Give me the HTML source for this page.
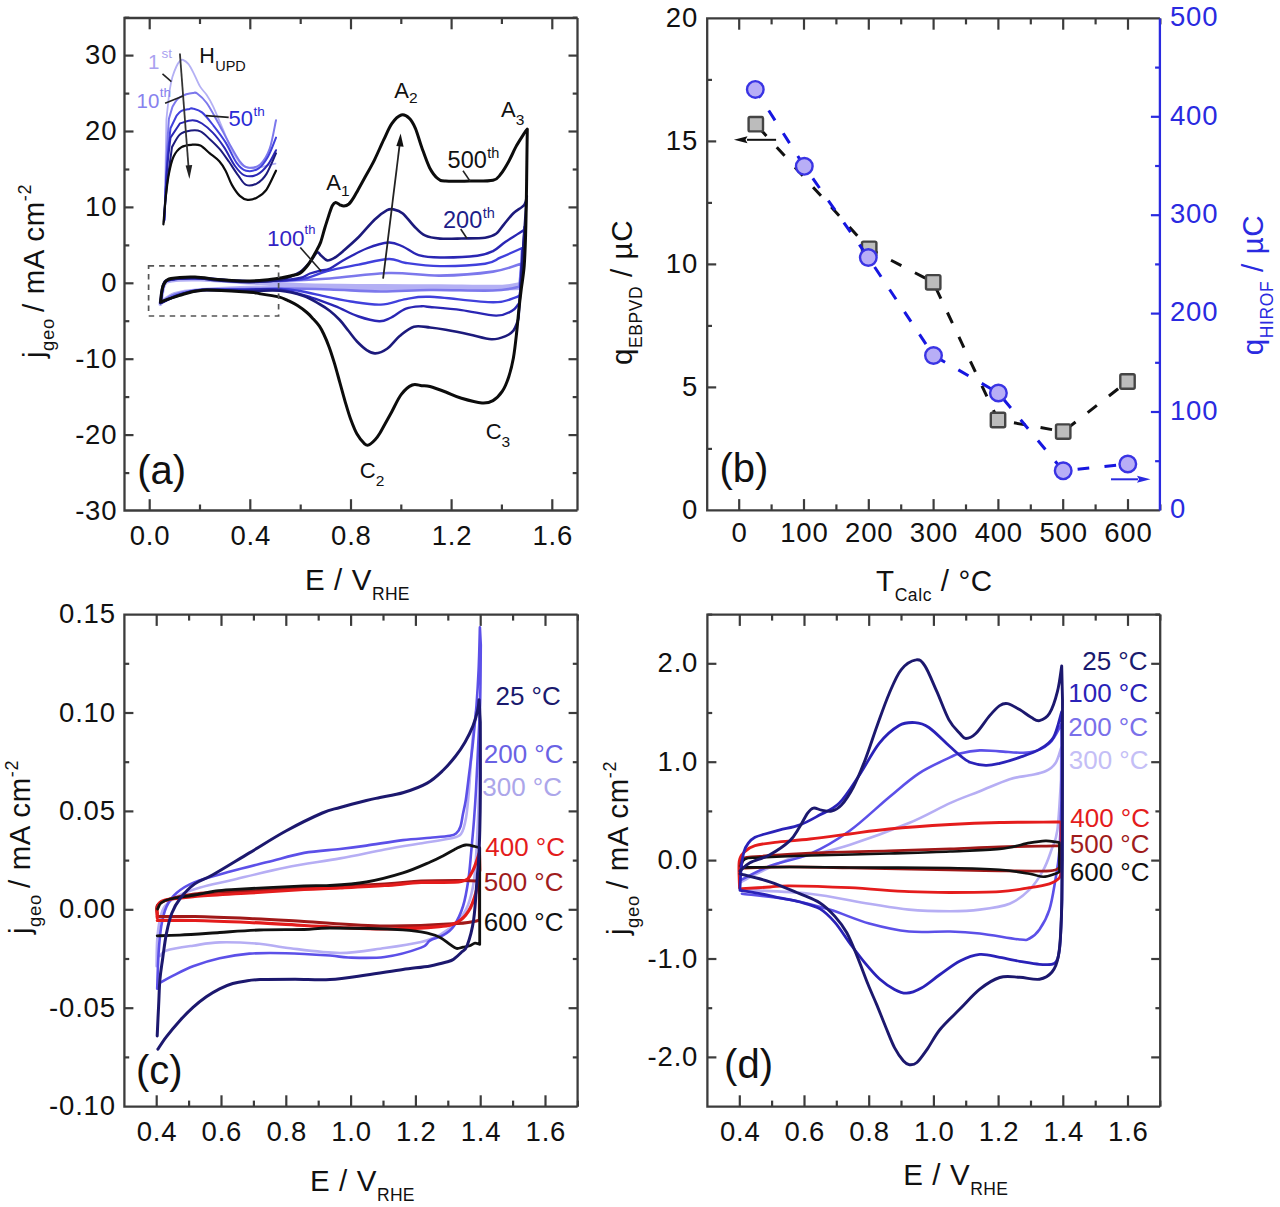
<!DOCTYPE html>
<html><head><meta charset="utf-8"><style>
html,body{margin:0;padding:0;background:#fff;}
svg{display:block;font-family:"Liberation Sans", sans-serif;}
</style></head><body>
<svg width="1280" height="1207" viewBox="0 0 1280 1207">
<rect width="1280" height="1207" fill="#fff"/>
<line x1="149.7" y1="510.5" x2="149.7" y2="499.2" stroke="#3c3c3c" stroke-width="2.2"/>
<line x1="149.7" y1="18" x2="149.7" y2="29.3" stroke="#3c3c3c" stroke-width="2.2"/>
<line x1="250.3" y1="510.5" x2="250.3" y2="499.2" stroke="#3c3c3c" stroke-width="2.2"/>
<line x1="250.3" y1="18" x2="250.3" y2="29.3" stroke="#3c3c3c" stroke-width="2.2"/>
<line x1="351" y1="510.5" x2="351" y2="499.2" stroke="#3c3c3c" stroke-width="2.2"/>
<line x1="351" y1="18" x2="351" y2="29.3" stroke="#3c3c3c" stroke-width="2.2"/>
<line x1="451.6" y1="510.5" x2="451.6" y2="499.2" stroke="#3c3c3c" stroke-width="2.2"/>
<line x1="451.6" y1="18" x2="451.6" y2="29.3" stroke="#3c3c3c" stroke-width="2.2"/>
<line x1="552.3" y1="510.5" x2="552.3" y2="499.2" stroke="#3c3c3c" stroke-width="2.2"/>
<line x1="552.3" y1="18" x2="552.3" y2="29.3" stroke="#3c3c3c" stroke-width="2.2"/>
<line x1="200" y1="510.5" x2="200" y2="504.5" stroke="#3c3c3c" stroke-width="2.2"/>
<line x1="200" y1="18" x2="200" y2="24" stroke="#3c3c3c" stroke-width="2.2"/>
<line x1="300.7" y1="510.5" x2="300.7" y2="504.5" stroke="#3c3c3c" stroke-width="2.2"/>
<line x1="300.7" y1="18" x2="300.7" y2="24" stroke="#3c3c3c" stroke-width="2.2"/>
<line x1="401.3" y1="510.5" x2="401.3" y2="504.5" stroke="#3c3c3c" stroke-width="2.2"/>
<line x1="401.3" y1="18" x2="401.3" y2="24" stroke="#3c3c3c" stroke-width="2.2"/>
<line x1="501.9" y1="510.5" x2="501.9" y2="504.5" stroke="#3c3c3c" stroke-width="2.2"/>
<line x1="501.9" y1="18" x2="501.9" y2="24" stroke="#3c3c3c" stroke-width="2.2"/>
<line x1="124.5" y1="435.1" x2="133.5" y2="435.1" stroke="#3c3c3c" stroke-width="2.2"/>
<line x1="124.5" y1="359.2" x2="133.5" y2="359.2" stroke="#3c3c3c" stroke-width="2.2"/>
<line x1="124.5" y1="283.3" x2="133.5" y2="283.3" stroke="#3c3c3c" stroke-width="2.2"/>
<line x1="124.5" y1="207.4" x2="133.5" y2="207.4" stroke="#3c3c3c" stroke-width="2.2"/>
<line x1="124.5" y1="131.5" x2="133.5" y2="131.5" stroke="#3c3c3c" stroke-width="2.2"/>
<line x1="124.5" y1="55.6" x2="133.5" y2="55.6" stroke="#3c3c3c" stroke-width="2.2"/>
<line x1="124.5" y1="473.1" x2="129.3" y2="473.1" stroke="#3c3c3c" stroke-width="2.2"/>
<line x1="124.5" y1="397.1" x2="129.3" y2="397.1" stroke="#3c3c3c" stroke-width="2.2"/>
<line x1="124.5" y1="321.2" x2="129.3" y2="321.2" stroke="#3c3c3c" stroke-width="2.2"/>
<line x1="124.5" y1="245.4" x2="129.3" y2="245.4" stroke="#3c3c3c" stroke-width="2.2"/>
<line x1="124.5" y1="169.5" x2="129.3" y2="169.5" stroke="#3c3c3c" stroke-width="2.2"/>
<line x1="124.5" y1="93.6" x2="129.3" y2="93.6" stroke="#3c3c3c" stroke-width="2.2"/>
<line x1="124.5" y1="17.7" x2="129.3" y2="17.7" stroke="#3c3c3c" stroke-width="2.2"/>
<line x1="577.5" y1="435.1" x2="568.5" y2="435.1" stroke="#3c3c3c" stroke-width="2.2"/>
<line x1="577.5" y1="359.2" x2="568.5" y2="359.2" stroke="#3c3c3c" stroke-width="2.2"/>
<line x1="577.5" y1="283.3" x2="568.5" y2="283.3" stroke="#3c3c3c" stroke-width="2.2"/>
<line x1="577.5" y1="207.4" x2="568.5" y2="207.4" stroke="#3c3c3c" stroke-width="2.2"/>
<line x1="577.5" y1="131.5" x2="568.5" y2="131.5" stroke="#3c3c3c" stroke-width="2.2"/>
<line x1="577.5" y1="55.6" x2="568.5" y2="55.6" stroke="#3c3c3c" stroke-width="2.2"/>
<line x1="577.5" y1="473.1" x2="572.7" y2="473.1" stroke="#3c3c3c" stroke-width="2.2"/>
<line x1="577.5" y1="397.1" x2="572.7" y2="397.1" stroke="#3c3c3c" stroke-width="2.2"/>
<line x1="577.5" y1="321.2" x2="572.7" y2="321.2" stroke="#3c3c3c" stroke-width="2.2"/>
<line x1="577.5" y1="245.4" x2="572.7" y2="245.4" stroke="#3c3c3c" stroke-width="2.2"/>
<line x1="577.5" y1="169.5" x2="572.7" y2="169.5" stroke="#3c3c3c" stroke-width="2.2"/>
<line x1="577.5" y1="93.6" x2="572.7" y2="93.6" stroke="#3c3c3c" stroke-width="2.2"/>
<line x1="577.5" y1="17.7" x2="572.7" y2="17.7" stroke="#3c3c3c" stroke-width="2.2"/>
<path d="M577.5,18 L124.5,18 L124.5,510.5 L577.5,510.5" fill="none" stroke="#3c3c3c" stroke-width="2.3" stroke-linejoin="miter"/>
<line x1="577.5" y1="18" x2="577.5" y2="510.5" stroke="#3c3c3c" stroke-width="2.3"/>
<text x="117.3" y="519.5" font-size="27.5" text-anchor="end" fill="#111" letter-spacing="0.8">-30</text>
<text x="117.3" y="443.6" font-size="27.5" text-anchor="end" fill="#111" letter-spacing="0.8">-20</text>
<text x="117.3" y="367.7" font-size="27.5" text-anchor="end" fill="#111" letter-spacing="0.8">-10</text>
<text x="117.3" y="291.8" font-size="27.5" text-anchor="end" fill="#111" letter-spacing="0.8">0</text>
<text x="117.3" y="215.9" font-size="27.5" text-anchor="end" fill="#111" letter-spacing="0.8">10</text>
<text x="117.3" y="140" font-size="27.5" text-anchor="end" fill="#111" letter-spacing="0.8">20</text>
<text x="117.3" y="64.1" font-size="27.5" text-anchor="end" fill="#111" letter-spacing="0.8">30</text>
<text x="150.1" y="544.7" font-size="27.5" text-anchor="middle" fill="#111" letter-spacing="0.8">0.0</text>
<text x="250.7" y="544.7" font-size="27.5" text-anchor="middle" fill="#111" letter-spacing="0.8">0.4</text>
<text x="351.4" y="544.7" font-size="27.5" text-anchor="middle" fill="#111" letter-spacing="0.8">0.8</text>
<text x="452" y="544.7" font-size="27.5" text-anchor="middle" fill="#111" letter-spacing="0.8">1.2</text>
<text x="552.7" y="544.7" font-size="27.5" text-anchor="middle" fill="#111" letter-spacing="0.8">1.6</text>
<line x1="739.2" y1="510.4" x2="739.2" y2="499.1" stroke="#3c3c3c" stroke-width="2.2"/>
<line x1="739.2" y1="18.4" x2="739.2" y2="29.7" stroke="#3c3c3c" stroke-width="2.2"/>
<line x1="804" y1="510.4" x2="804" y2="499.1" stroke="#3c3c3c" stroke-width="2.2"/>
<line x1="804" y1="18.4" x2="804" y2="29.7" stroke="#3c3c3c" stroke-width="2.2"/>
<line x1="868.8" y1="510.4" x2="868.8" y2="499.1" stroke="#3c3c3c" stroke-width="2.2"/>
<line x1="868.8" y1="18.4" x2="868.8" y2="29.7" stroke="#3c3c3c" stroke-width="2.2"/>
<line x1="933.6" y1="510.4" x2="933.6" y2="499.1" stroke="#3c3c3c" stroke-width="2.2"/>
<line x1="933.6" y1="18.4" x2="933.6" y2="29.7" stroke="#3c3c3c" stroke-width="2.2"/>
<line x1="998.4" y1="510.4" x2="998.4" y2="499.1" stroke="#3c3c3c" stroke-width="2.2"/>
<line x1="998.4" y1="18.4" x2="998.4" y2="29.7" stroke="#3c3c3c" stroke-width="2.2"/>
<line x1="1063.2" y1="510.4" x2="1063.2" y2="499.1" stroke="#3c3c3c" stroke-width="2.2"/>
<line x1="1063.2" y1="18.4" x2="1063.2" y2="29.7" stroke="#3c3c3c" stroke-width="2.2"/>
<line x1="1128" y1="510.4" x2="1128" y2="499.1" stroke="#3c3c3c" stroke-width="2.2"/>
<line x1="1128" y1="18.4" x2="1128" y2="29.7" stroke="#3c3c3c" stroke-width="2.2"/>
<line x1="771.6" y1="510.4" x2="771.6" y2="504.4" stroke="#3c3c3c" stroke-width="2.2"/>
<line x1="771.6" y1="18.4" x2="771.6" y2="24.4" stroke="#3c3c3c" stroke-width="2.2"/>
<line x1="836.4" y1="510.4" x2="836.4" y2="504.4" stroke="#3c3c3c" stroke-width="2.2"/>
<line x1="836.4" y1="18.4" x2="836.4" y2="24.4" stroke="#3c3c3c" stroke-width="2.2"/>
<line x1="901.2" y1="510.4" x2="901.2" y2="504.4" stroke="#3c3c3c" stroke-width="2.2"/>
<line x1="901.2" y1="18.4" x2="901.2" y2="24.4" stroke="#3c3c3c" stroke-width="2.2"/>
<line x1="966" y1="510.4" x2="966" y2="504.4" stroke="#3c3c3c" stroke-width="2.2"/>
<line x1="966" y1="18.4" x2="966" y2="24.4" stroke="#3c3c3c" stroke-width="2.2"/>
<line x1="1030.8" y1="510.4" x2="1030.8" y2="504.4" stroke="#3c3c3c" stroke-width="2.2"/>
<line x1="1030.8" y1="18.4" x2="1030.8" y2="24.4" stroke="#3c3c3c" stroke-width="2.2"/>
<line x1="1095.6" y1="510.4" x2="1095.6" y2="504.4" stroke="#3c3c3c" stroke-width="2.2"/>
<line x1="1095.6" y1="18.4" x2="1095.6" y2="24.4" stroke="#3c3c3c" stroke-width="2.2"/>
<line x1="1160.4" y1="510.4" x2="1160.4" y2="504.4" stroke="#3c3c3c" stroke-width="2.2"/>
<line x1="1160.4" y1="18.4" x2="1160.4" y2="24.4" stroke="#3c3c3c" stroke-width="2.2"/>
<line x1="707.2" y1="387.4" x2="716.2" y2="387.4" stroke="#3c3c3c" stroke-width="2.2"/>
<line x1="707.2" y1="264.4" x2="716.2" y2="264.4" stroke="#3c3c3c" stroke-width="2.2"/>
<line x1="707.2" y1="141.4" x2="716.2" y2="141.4" stroke="#3c3c3c" stroke-width="2.2"/>
<line x1="707.2" y1="448.9" x2="712" y2="448.9" stroke="#3c3c3c" stroke-width="2.2"/>
<line x1="707.2" y1="325.9" x2="712" y2="325.9" stroke="#3c3c3c" stroke-width="2.2"/>
<line x1="707.2" y1="202.9" x2="712" y2="202.9" stroke="#3c3c3c" stroke-width="2.2"/>
<line x1="707.2" y1="79.9" x2="712" y2="79.9" stroke="#3c3c3c" stroke-width="2.2"/>
<path d="M1159.9,18.4 L707.2,18.4 L707.2,510.4 L1159.9,510.4" fill="none" stroke="#3c3c3c" stroke-width="2.3" stroke-linejoin="miter"/>
<line x1="1159.9" y1="18.4" x2="1159.9" y2="510.4" stroke="#2a2ae0" stroke-width="2.3"/>
<line x1="1159.9" y1="412" x2="1150.9" y2="412" stroke="#2a2ae0" stroke-width="2.2"/>
<line x1="1159.9" y1="313.6" x2="1150.9" y2="313.6" stroke="#2a2ae0" stroke-width="2.2"/>
<line x1="1159.9" y1="215.2" x2="1150.9" y2="215.2" stroke="#2a2ae0" stroke-width="2.2"/>
<line x1="1159.9" y1="116.8" x2="1150.9" y2="116.8" stroke="#2a2ae0" stroke-width="2.2"/>
<line x1="1159.9" y1="461.2" x2="1155.1" y2="461.2" stroke="#2a2ae0" stroke-width="2.2"/>
<line x1="1159.9" y1="362.8" x2="1155.1" y2="362.8" stroke="#2a2ae0" stroke-width="2.2"/>
<line x1="1159.9" y1="264.4" x2="1155.1" y2="264.4" stroke="#2a2ae0" stroke-width="2.2"/>
<line x1="1159.9" y1="166" x2="1155.1" y2="166" stroke="#2a2ae0" stroke-width="2.2"/>
<line x1="1159.9" y1="67.6" x2="1155.1" y2="67.6" stroke="#2a2ae0" stroke-width="2.2"/>
<text x="698" y="518.9" font-size="27.5" text-anchor="end" fill="#111" letter-spacing="0.8">0</text>
<text x="698" y="395.9" font-size="27.5" text-anchor="end" fill="#111" letter-spacing="0.8">5</text>
<text x="698" y="272.9" font-size="27.5" text-anchor="end" fill="#111" letter-spacing="0.8">10</text>
<text x="698" y="149.9" font-size="27.5" text-anchor="end" fill="#111" letter-spacing="0.8">15</text>
<text x="698" y="26.9" font-size="27.5" text-anchor="end" fill="#111" letter-spacing="0.8">20</text>
<text x="1170" y="518.2" font-size="27.5" text-anchor="start" fill="#2a2ae0" letter-spacing="0.8">0</text>
<text x="1170" y="419.8" font-size="27.5" text-anchor="start" fill="#2a2ae0" letter-spacing="0.8">100</text>
<text x="1170" y="321.4" font-size="27.5" text-anchor="start" fill="#2a2ae0" letter-spacing="0.8">200</text>
<text x="1170" y="223" font-size="27.5" text-anchor="start" fill="#2a2ae0" letter-spacing="0.8">300</text>
<text x="1170" y="124.6" font-size="27.5" text-anchor="start" fill="#2a2ae0" letter-spacing="0.8">400</text>
<text x="1170" y="26.2" font-size="27.5" text-anchor="start" fill="#2a2ae0" letter-spacing="0.8">500</text>
<text x="739.6" y="541.5" font-size="27.5" text-anchor="middle" fill="#111" letter-spacing="0.8">0</text>
<text x="804.4" y="541.5" font-size="27.5" text-anchor="middle" fill="#111" letter-spacing="0.8">100</text>
<text x="869.2" y="541.5" font-size="27.5" text-anchor="middle" fill="#111" letter-spacing="0.8">200</text>
<text x="934" y="541.5" font-size="27.5" text-anchor="middle" fill="#111" letter-spacing="0.8">300</text>
<text x="998.8" y="541.5" font-size="27.5" text-anchor="middle" fill="#111" letter-spacing="0.8">400</text>
<text x="1063.6" y="541.5" font-size="27.5" text-anchor="middle" fill="#111" letter-spacing="0.8">500</text>
<text x="1128.4" y="541.5" font-size="27.5" text-anchor="middle" fill="#111" letter-spacing="0.8">600</text>
<line x1="156.7" y1="1106.6" x2="156.7" y2="1095.3" stroke="#3c3c3c" stroke-width="2.2"/>
<line x1="156.7" y1="614.6" x2="156.7" y2="625.9" stroke="#3c3c3c" stroke-width="2.2"/>
<line x1="221.5" y1="1106.6" x2="221.5" y2="1095.3" stroke="#3c3c3c" stroke-width="2.2"/>
<line x1="221.5" y1="614.6" x2="221.5" y2="625.9" stroke="#3c3c3c" stroke-width="2.2"/>
<line x1="286.3" y1="1106.6" x2="286.3" y2="1095.3" stroke="#3c3c3c" stroke-width="2.2"/>
<line x1="286.3" y1="614.6" x2="286.3" y2="625.9" stroke="#3c3c3c" stroke-width="2.2"/>
<line x1="351.1" y1="1106.6" x2="351.1" y2="1095.3" stroke="#3c3c3c" stroke-width="2.2"/>
<line x1="351.1" y1="614.6" x2="351.1" y2="625.9" stroke="#3c3c3c" stroke-width="2.2"/>
<line x1="415.9" y1="1106.6" x2="415.9" y2="1095.3" stroke="#3c3c3c" stroke-width="2.2"/>
<line x1="415.9" y1="614.6" x2="415.9" y2="625.9" stroke="#3c3c3c" stroke-width="2.2"/>
<line x1="480.7" y1="1106.6" x2="480.7" y2="1095.3" stroke="#3c3c3c" stroke-width="2.2"/>
<line x1="480.7" y1="614.6" x2="480.7" y2="625.9" stroke="#3c3c3c" stroke-width="2.2"/>
<line x1="545.5" y1="1106.6" x2="545.5" y2="1095.3" stroke="#3c3c3c" stroke-width="2.2"/>
<line x1="545.5" y1="614.6" x2="545.5" y2="625.9" stroke="#3c3c3c" stroke-width="2.2"/>
<line x1="189.1" y1="1106.6" x2="189.1" y2="1100.6" stroke="#3c3c3c" stroke-width="2.2"/>
<line x1="189.1" y1="614.6" x2="189.1" y2="620.6" stroke="#3c3c3c" stroke-width="2.2"/>
<line x1="253.9" y1="1106.6" x2="253.9" y2="1100.6" stroke="#3c3c3c" stroke-width="2.2"/>
<line x1="253.9" y1="614.6" x2="253.9" y2="620.6" stroke="#3c3c3c" stroke-width="2.2"/>
<line x1="318.7" y1="1106.6" x2="318.7" y2="1100.6" stroke="#3c3c3c" stroke-width="2.2"/>
<line x1="318.7" y1="614.6" x2="318.7" y2="620.6" stroke="#3c3c3c" stroke-width="2.2"/>
<line x1="383.5" y1="1106.6" x2="383.5" y2="1100.6" stroke="#3c3c3c" stroke-width="2.2"/>
<line x1="383.5" y1="614.6" x2="383.5" y2="620.6" stroke="#3c3c3c" stroke-width="2.2"/>
<line x1="448.3" y1="1106.6" x2="448.3" y2="1100.6" stroke="#3c3c3c" stroke-width="2.2"/>
<line x1="448.3" y1="614.6" x2="448.3" y2="620.6" stroke="#3c3c3c" stroke-width="2.2"/>
<line x1="513.1" y1="1106.6" x2="513.1" y2="1100.6" stroke="#3c3c3c" stroke-width="2.2"/>
<line x1="513.1" y1="614.6" x2="513.1" y2="620.6" stroke="#3c3c3c" stroke-width="2.2"/>
<line x1="577.9" y1="1106.6" x2="577.9" y2="1100.6" stroke="#3c3c3c" stroke-width="2.2"/>
<line x1="577.9" y1="614.6" x2="577.9" y2="620.6" stroke="#3c3c3c" stroke-width="2.2"/>
<line x1="124.4" y1="1008.2" x2="133.4" y2="1008.2" stroke="#3c3c3c" stroke-width="2.2"/>
<line x1="124.4" y1="909.8" x2="133.4" y2="909.8" stroke="#3c3c3c" stroke-width="2.2"/>
<line x1="124.4" y1="811.4" x2="133.4" y2="811.4" stroke="#3c3c3c" stroke-width="2.2"/>
<line x1="124.4" y1="713" x2="133.4" y2="713" stroke="#3c3c3c" stroke-width="2.2"/>
<line x1="124.4" y1="1057.4" x2="129.2" y2="1057.4" stroke="#3c3c3c" stroke-width="2.2"/>
<line x1="124.4" y1="959" x2="129.2" y2="959" stroke="#3c3c3c" stroke-width="2.2"/>
<line x1="124.4" y1="860.6" x2="129.2" y2="860.6" stroke="#3c3c3c" stroke-width="2.2"/>
<line x1="124.4" y1="762.2" x2="129.2" y2="762.2" stroke="#3c3c3c" stroke-width="2.2"/>
<line x1="124.4" y1="663.8" x2="129.2" y2="663.8" stroke="#3c3c3c" stroke-width="2.2"/>
<line x1="577.6" y1="1008.2" x2="568.6" y2="1008.2" stroke="#3c3c3c" stroke-width="2.2"/>
<line x1="577.6" y1="909.8" x2="568.6" y2="909.8" stroke="#3c3c3c" stroke-width="2.2"/>
<line x1="577.6" y1="811.4" x2="568.6" y2="811.4" stroke="#3c3c3c" stroke-width="2.2"/>
<line x1="577.6" y1="713" x2="568.6" y2="713" stroke="#3c3c3c" stroke-width="2.2"/>
<line x1="577.6" y1="1057.4" x2="572.8" y2="1057.4" stroke="#3c3c3c" stroke-width="2.2"/>
<line x1="577.6" y1="959" x2="572.8" y2="959" stroke="#3c3c3c" stroke-width="2.2"/>
<line x1="577.6" y1="860.6" x2="572.8" y2="860.6" stroke="#3c3c3c" stroke-width="2.2"/>
<line x1="577.6" y1="762.2" x2="572.8" y2="762.2" stroke="#3c3c3c" stroke-width="2.2"/>
<line x1="577.6" y1="663.8" x2="572.8" y2="663.8" stroke="#3c3c3c" stroke-width="2.2"/>
<path d="M577.6,614.6 L124.4,614.6 L124.4,1106.6 L577.6,1106.6" fill="none" stroke="#3c3c3c" stroke-width="2.3" stroke-linejoin="miter"/>
<line x1="577.6" y1="614.6" x2="577.6" y2="1106.6" stroke="#3c3c3c" stroke-width="2.3"/>
<text x="115.8" y="623.1" font-size="27.5" text-anchor="end" fill="#111" letter-spacing="0.8">0.15</text>
<text x="115.8" y="721.5" font-size="27.5" text-anchor="end" fill="#111" letter-spacing="0.8">0.10</text>
<text x="115.8" y="819.9" font-size="27.5" text-anchor="end" fill="#111" letter-spacing="0.8">0.05</text>
<text x="115.8" y="918.3" font-size="27.5" text-anchor="end" fill="#111" letter-spacing="0.8">0.00</text>
<text x="115.8" y="1016.7" font-size="27.5" text-anchor="end" fill="#111" letter-spacing="0.8">-0.05</text>
<text x="115.8" y="1115.1" font-size="27.5" text-anchor="end" fill="#111" letter-spacing="0.8">-0.10</text>
<text x="157.1" y="1140.9" font-size="27.5" text-anchor="middle" fill="#111" letter-spacing="0.8">0.4</text>
<text x="221.9" y="1140.9" font-size="27.5" text-anchor="middle" fill="#111" letter-spacing="0.8">0.6</text>
<text x="286.7" y="1140.9" font-size="27.5" text-anchor="middle" fill="#111" letter-spacing="0.8">0.8</text>
<text x="351.5" y="1140.9" font-size="27.5" text-anchor="middle" fill="#111" letter-spacing="0.8">1.0</text>
<text x="416.3" y="1140.9" font-size="27.5" text-anchor="middle" fill="#111" letter-spacing="0.8">1.2</text>
<text x="481.1" y="1140.9" font-size="27.5" text-anchor="middle" fill="#111" letter-spacing="0.8">1.4</text>
<text x="545.9" y="1140.9" font-size="27.5" text-anchor="middle" fill="#111" letter-spacing="0.8">1.6</text>
<line x1="739.8" y1="1106.6" x2="739.8" y2="1095.3" stroke="#3c3c3c" stroke-width="2.2"/>
<line x1="739.8" y1="614.6" x2="739.8" y2="625.9" stroke="#3c3c3c" stroke-width="2.2"/>
<line x1="804.5" y1="1106.6" x2="804.5" y2="1095.3" stroke="#3c3c3c" stroke-width="2.2"/>
<line x1="804.5" y1="614.6" x2="804.5" y2="625.9" stroke="#3c3c3c" stroke-width="2.2"/>
<line x1="869.2" y1="1106.6" x2="869.2" y2="1095.3" stroke="#3c3c3c" stroke-width="2.2"/>
<line x1="869.2" y1="614.6" x2="869.2" y2="625.9" stroke="#3c3c3c" stroke-width="2.2"/>
<line x1="933.9" y1="1106.6" x2="933.9" y2="1095.3" stroke="#3c3c3c" stroke-width="2.2"/>
<line x1="933.9" y1="614.6" x2="933.9" y2="625.9" stroke="#3c3c3c" stroke-width="2.2"/>
<line x1="998.6" y1="1106.6" x2="998.6" y2="1095.3" stroke="#3c3c3c" stroke-width="2.2"/>
<line x1="998.6" y1="614.6" x2="998.6" y2="625.9" stroke="#3c3c3c" stroke-width="2.2"/>
<line x1="1063.3" y1="1106.6" x2="1063.3" y2="1095.3" stroke="#3c3c3c" stroke-width="2.2"/>
<line x1="1063.3" y1="614.6" x2="1063.3" y2="625.9" stroke="#3c3c3c" stroke-width="2.2"/>
<line x1="1128" y1="1106.6" x2="1128" y2="1095.3" stroke="#3c3c3c" stroke-width="2.2"/>
<line x1="1128" y1="614.6" x2="1128" y2="625.9" stroke="#3c3c3c" stroke-width="2.2"/>
<line x1="772.1" y1="1106.6" x2="772.1" y2="1100.6" stroke="#3c3c3c" stroke-width="2.2"/>
<line x1="772.1" y1="614.6" x2="772.1" y2="620.6" stroke="#3c3c3c" stroke-width="2.2"/>
<line x1="836.8" y1="1106.6" x2="836.8" y2="1100.6" stroke="#3c3c3c" stroke-width="2.2"/>
<line x1="836.8" y1="614.6" x2="836.8" y2="620.6" stroke="#3c3c3c" stroke-width="2.2"/>
<line x1="901.5" y1="1106.6" x2="901.5" y2="1100.6" stroke="#3c3c3c" stroke-width="2.2"/>
<line x1="901.5" y1="614.6" x2="901.5" y2="620.6" stroke="#3c3c3c" stroke-width="2.2"/>
<line x1="966.2" y1="1106.6" x2="966.2" y2="1100.6" stroke="#3c3c3c" stroke-width="2.2"/>
<line x1="966.2" y1="614.6" x2="966.2" y2="620.6" stroke="#3c3c3c" stroke-width="2.2"/>
<line x1="1031" y1="1106.6" x2="1031" y2="1100.6" stroke="#3c3c3c" stroke-width="2.2"/>
<line x1="1031" y1="614.6" x2="1031" y2="620.6" stroke="#3c3c3c" stroke-width="2.2"/>
<line x1="1095.7" y1="1106.6" x2="1095.7" y2="1100.6" stroke="#3c3c3c" stroke-width="2.2"/>
<line x1="1095.7" y1="614.6" x2="1095.7" y2="620.6" stroke="#3c3c3c" stroke-width="2.2"/>
<line x1="1160.3" y1="1106.6" x2="1160.3" y2="1100.6" stroke="#3c3c3c" stroke-width="2.2"/>
<line x1="1160.3" y1="614.6" x2="1160.3" y2="620.6" stroke="#3c3c3c" stroke-width="2.2"/>
<line x1="707.4" y1="1057.4" x2="716.4" y2="1057.4" stroke="#3c3c3c" stroke-width="2.2"/>
<line x1="707.4" y1="959" x2="716.4" y2="959" stroke="#3c3c3c" stroke-width="2.2"/>
<line x1="707.4" y1="860.6" x2="716.4" y2="860.6" stroke="#3c3c3c" stroke-width="2.2"/>
<line x1="707.4" y1="762.2" x2="716.4" y2="762.2" stroke="#3c3c3c" stroke-width="2.2"/>
<line x1="707.4" y1="663.8" x2="716.4" y2="663.8" stroke="#3c3c3c" stroke-width="2.2"/>
<line x1="707.4" y1="1008.2" x2="712.2" y2="1008.2" stroke="#3c3c3c" stroke-width="2.2"/>
<line x1="707.4" y1="909.8" x2="712.2" y2="909.8" stroke="#3c3c3c" stroke-width="2.2"/>
<line x1="707.4" y1="811.4" x2="712.2" y2="811.4" stroke="#3c3c3c" stroke-width="2.2"/>
<line x1="707.4" y1="713" x2="712.2" y2="713" stroke="#3c3c3c" stroke-width="2.2"/>
<line x1="707.4" y1="614.6" x2="712.2" y2="614.6" stroke="#3c3c3c" stroke-width="2.2"/>
<line x1="1160.2" y1="1057.4" x2="1151.2" y2="1057.4" stroke="#3c3c3c" stroke-width="2.2"/>
<line x1="1160.2" y1="959" x2="1151.2" y2="959" stroke="#3c3c3c" stroke-width="2.2"/>
<line x1="1160.2" y1="860.6" x2="1151.2" y2="860.6" stroke="#3c3c3c" stroke-width="2.2"/>
<line x1="1160.2" y1="762.2" x2="1151.2" y2="762.2" stroke="#3c3c3c" stroke-width="2.2"/>
<line x1="1160.2" y1="663.8" x2="1151.2" y2="663.8" stroke="#3c3c3c" stroke-width="2.2"/>
<line x1="1160.2" y1="1008.2" x2="1155.4" y2="1008.2" stroke="#3c3c3c" stroke-width="2.2"/>
<line x1="1160.2" y1="909.8" x2="1155.4" y2="909.8" stroke="#3c3c3c" stroke-width="2.2"/>
<line x1="1160.2" y1="811.4" x2="1155.4" y2="811.4" stroke="#3c3c3c" stroke-width="2.2"/>
<line x1="1160.2" y1="713" x2="1155.4" y2="713" stroke="#3c3c3c" stroke-width="2.2"/>
<line x1="1160.2" y1="614.6" x2="1155.4" y2="614.6" stroke="#3c3c3c" stroke-width="2.2"/>
<path d="M1160.2,614.6 L707.4,614.6 L707.4,1106.6 L1160.2,1106.6" fill="none" stroke="#3c3c3c" stroke-width="2.3" stroke-linejoin="miter"/>
<line x1="1160.2" y1="614.6" x2="1160.2" y2="1106.6" stroke="#3c3c3c" stroke-width="2.3"/>
<text x="698.2" y="672.3" font-size="27.5" text-anchor="end" fill="#111" letter-spacing="0.8">2.0</text>
<text x="698.2" y="770.7" font-size="27.5" text-anchor="end" fill="#111" letter-spacing="0.8">1.0</text>
<text x="698.2" y="869.1" font-size="27.5" text-anchor="end" fill="#111" letter-spacing="0.8">0.0</text>
<text x="698.2" y="967.5" font-size="27.5" text-anchor="end" fill="#111" letter-spacing="0.8">-1.0</text>
<text x="698.2" y="1065.9" font-size="27.5" text-anchor="end" fill="#111" letter-spacing="0.8">-2.0</text>
<text x="740.2" y="1141" font-size="27.5" text-anchor="middle" fill="#111" letter-spacing="0.8">0.4</text>
<text x="804.9" y="1141" font-size="27.5" text-anchor="middle" fill="#111" letter-spacing="0.8">0.6</text>
<text x="869.6" y="1141" font-size="27.5" text-anchor="middle" fill="#111" letter-spacing="0.8">0.8</text>
<text x="934.3" y="1141" font-size="27.5" text-anchor="middle" fill="#111" letter-spacing="0.8">1.0</text>
<text x="999" y="1141" font-size="27.5" text-anchor="middle" fill="#111" letter-spacing="0.8">1.2</text>
<text x="1063.7" y="1141" font-size="27.5" text-anchor="middle" fill="#111" letter-spacing="0.8">1.4</text>
<text x="1128.4" y="1141" font-size="27.5" text-anchor="middle" fill="#111" letter-spacing="0.8">1.6</text>
<text x="305" y="590" font-size="29.5" fill="#111" letter-spacing="0.6">E / V<tspan font-size="17.5" dy="10" letter-spacing="0.3">RHE</tspan></text>
<text x="310" y="1190.7" font-size="29.5" fill="#111" letter-spacing="0.6">E / V<tspan font-size="17.5" dy="10" letter-spacing="0.3">RHE</tspan></text>
<text x="903.3" y="1185" font-size="29.5" fill="#111" letter-spacing="0.6">E / V<tspan font-size="17.5" dy="10" letter-spacing="0.3">RHE</tspan></text>
<text x="876" y="590.5" font-size="29.5" fill="#111" letter-spacing="0.6">T<tspan font-size="17.5" dy="10">Calc</tspan><tspan dy="-10"> / °C</tspan></text>
<text transform="translate(43.8,271) rotate(-90)" font-size="29.5" text-anchor="middle" fill="#111" letter-spacing="0.6">j<tspan font-size="18.5" dy="10.5">geo</tspan><tspan dy="-10.5" dx="-2.5"> / mA cm</tspan><tspan font-size="18" dy="-12.5">-2</tspan></text>
<text transform="translate(30,847) rotate(-90)" font-size="29.5" text-anchor="middle" fill="#111" letter-spacing="0.6">j<tspan font-size="18.5" dy="10.5">geo</tspan><tspan dy="-10.5" dx="-2.5"> / mA cm</tspan><tspan font-size="18" dy="-12.5">-2</tspan></text>
<text transform="translate(628,848) rotate(-90)" font-size="29.5" text-anchor="middle" fill="#111" letter-spacing="0.6">j<tspan font-size="18.5" dy="10.5">geo</tspan><tspan dy="-10.5" dx="-2.5"> / mA cm</tspan><tspan font-size="18" dy="-12.5">-2</tspan></text>
<text transform="translate(632,292.5) rotate(-90)" font-size="29.5" text-anchor="middle" fill="#111" letter-spacing="0.6">q<tspan font-size="17.5" dy="10">EBPVD</tspan><tspan dy="-10"> / µC</tspan></text>
<text transform="translate(1262.5,285) rotate(-90)" font-size="29.5" text-anchor="middle" fill="#2a2ae0" letter-spacing="0.6">q<tspan font-size="17.5" dy="10">HIROF</tspan><tspan dy="-10"> / µC</tspan></text>
<text x="137.2" y="483.7" font-size="40" text-anchor="start" fill="#111">(a)</text>
<text x="719.4" y="481.8" font-size="40" text-anchor="start" fill="#111">(b)</text>
<text x="135.9" y="1083.7" font-size="40" text-anchor="start" fill="#111">(c)</text>
<text x="724.1" y="1077.8" font-size="40" text-anchor="start" fill="#111">(d)</text>
<path d="M160.5,304 C161.1,300.8 162.1,288.9 164,285 C165.9,281.1 166,281.4 172,280.5 C178,279.6 188.7,279.2 200,279.5 C211.3,279.8 228.3,281.3 240,282 C251.7,282.7 260,283 270,283.5 C280,284 288.3,284.6 300,285 C311.7,285.4 326.3,285.6 340,285.8 C353.7,286 365.3,285.9 382,286 C398.7,286.1 423.7,286.2 440,286.3 C456.3,286.4 469.2,286.8 480,286.8 C490.8,286.8 498.2,287 505,286.5 C511.8,286 518.3,284.4 521,284 L521,284 L520.5,288 L520.5,288 C513.8,288.2 493.4,289.1 480,289.3 C466.6,289.5 456.7,289.1 440,289 C423.3,288.9 400,289 380,288.8 C360,288.6 336.7,288.3 320,288 C303.3,287.7 293.3,287 280,287 C266.7,287 253.3,287.5 240,288 C226.7,288.5 210.8,289 200,290 C189.2,291 181.6,291.8 175,294 C168.4,296.2 162.9,301.5 160.5,303 " fill="none" stroke="#b4b0f4" stroke-width="4" stroke-linejoin="round" stroke-linecap="round"/>
<path d="M160.5,303 C161.1,299.9 162.1,288.4 164,284.5 C165.9,280.6 166,280.5 172,279.5 C178,278.5 188.7,278.2 200,278.5 C211.3,278.8 226.7,280.6 240,281 C253.3,281.4 265,281.4 280,281 C295,280.6 311.9,279.8 330,278.5 C348.1,277.2 370.4,273.5 388.7,273 C407,272.5 422.6,275.8 440,275.6 C457.4,275.4 479.4,273.6 493,271.6 C506.6,269.6 516.6,265 521.3,263.7 L521.3,263.7 L519.5,286 L519.5,286 C519.3,286.2 522.5,286.2 518.1,287 C513.7,287.8 507.7,290 493,290.5 C478.3,291 448.7,289.8 430,290 C411.3,290.2 397.5,291.6 380.8,291.5 C364.1,291.4 346.8,290 330,289.5 C313.2,289 295,288.6 280,288.5 C265,288.4 253.3,288.8 240,289 C226.7,289.2 210.8,289.1 200,290 C189.2,290.9 181.6,292.3 175,294.5 C168.4,296.7 162.9,301.6 160.5,303 " fill="none" stroke="#7c78ec" stroke-width="2.6" stroke-linejoin="round" stroke-linecap="round"/>
<path d="M160.5,303 C161.1,299.9 162.1,288.4 164,284.5 C165.9,280.6 166,280.5 172,279.5 C178,278.5 188.7,278.2 200,278.5 C211.3,278.8 226.7,280.7 240,281 C253.3,281.3 269.2,280.9 280,280.5 C290.8,280.1 297.1,280.1 305,278.5 C312.9,276.9 318.2,273.3 327.2,271 C336.1,268.7 348.4,266.6 358.7,264.6 C368.9,262.6 380.8,259.3 388.7,259 C396.6,258.7 397.4,261.8 406,263 C414.6,264.2 426.8,266 440,266.1 C453.2,266.2 475,265.1 485.1,263.7 C495.2,262.2 494.6,260 500.8,257.4 C507,254.8 518.6,249.6 522.1,248 L522.1,248 L520,295 L520,295 C519.2,295.4 519.5,296.4 515,297.6 C510.5,298.8 507.2,302.4 493,302.3 C478.8,302.2 444.5,297.3 430,296.8 C415.5,296.3 414.2,297.8 406,299.1 C397.8,300.4 390,304.2 380.8,304.6 C371.6,305 359.8,302.8 350.9,301.5 C342,300.2 335.7,298.6 327.2,296.8 C318.7,295.1 307.9,292.3 300,291 C292.1,289.7 290,289.2 280,289 C270,288.8 253.3,289.3 240,289.5 C226.7,289.7 210.3,289.1 200,290 C189.7,290.9 184.6,292.8 178,295 C171.4,297.2 163.4,301.7 160.5,303 " fill="none" stroke="#4040dc" stroke-width="2.4" stroke-linejoin="round" stroke-linecap="round"/>
<path d="M160.5,303 C161.1,299.8 162.1,287.9 164,284 C165.9,280.1 166,280.5 172,279.5 C178,278.5 188.7,277.8 200,278 C211.3,278.2 226.7,280.6 240,281 C253.3,281.4 270,281 280,280.5 C290,280 295,279.2 300,278 C305,276.8 306.8,274.7 310,273.5 C313.2,272.3 316.1,271.6 319.4,270.8 C322.7,270 326.1,270.2 330,268.5 C333.9,266.8 336.9,263.8 343,260.5 C349.1,257.2 359,251.5 366.6,248.5 C374.2,245.5 382.7,242.8 388.7,242.5 C394.7,242.2 397.8,244.4 402.8,246.5 C407.8,248.6 412.4,253.3 418.6,255.1 C424.8,256.9 430.2,257.4 440,257.5 C449.8,257.6 468.4,256.9 477.2,255.8 C486,254.7 488.3,253.4 493,251.1 C497.7,248.8 500.6,245.1 505.6,241.7 C510.6,238.3 519.8,233 522.9,230.6 C526,228.2 524.2,227.6 524.5,227 L524.5,227 L519.5,302 L519.5,302 C519.3,302.4 519.4,303.1 518.1,304.6 C516.8,306.1 515.6,309.1 511.9,310.9 C508.2,312.7 504.5,315.7 496.1,315.6 C487.7,315.5 472.5,311.5 461.5,310.1 C450.5,308.7 436.6,307.6 430,307 C423.4,306.4 425.7,305.9 421.7,306.2 C417.7,306.5 411.2,306.6 406,308.6 C400.8,310.6 394.7,315.9 390.2,318 C385.7,320.1 384.4,321.4 379.2,321.2 C373.9,320.9 366,319 358.7,316.5 C351.4,314 343,309.3 335.1,306.2 C327.2,303.1 320.7,300.4 311.5,297.6 C302.3,294.9 291.9,291 280,289.7 C268.1,288.4 253.3,289.9 240,290 C226.7,290.1 210.3,289.3 200,290.2 C189.7,291.1 184.6,293.4 178,295.5 C171.4,297.6 163.4,301.8 160.5,303 " fill="none" stroke="#2a26b4" stroke-width="2.4" stroke-linejoin="round" stroke-linecap="round"/>
<path d="M160.5,303 C161,299.8 161.8,287.9 163.5,284 C165.2,280.1 165.8,280.5 171,279.5 C176.2,278.5 187.2,277.8 195,278 C202.8,278.2 210.2,279.8 218,280.5 C225.8,281.2 234.2,281.8 242,282 C249.8,282.2 257.8,282.1 265,281.5 C272.2,280.9 279.2,280.1 285,278.5 C290.8,276.9 295.8,274.8 300,272 C304.2,269.2 307.2,265.2 310,262 C312.8,258.8 315.2,253.6 317,252.5 C318.8,251.4 319.3,254.2 321,255.5 C322.7,256.8 324.9,260.1 327.2,260.4 C329.5,260.7 332.4,259 335,257.5 C337.6,256 339.1,254.6 343,251.2 C346.9,247.8 353.4,242.2 358.7,237 C363.9,231.8 369.8,224.2 374.5,219.7 C379.2,215.2 384,211.9 387.1,210.2 C390.2,208.5 390.8,208.9 393.4,209.4 C396,209.9 399.4,210.6 402.8,213.4 C406.2,216.2 410.2,222.3 413.9,226 C417.6,229.7 420.5,233.3 424.9,235.4 C429.2,237.5 433.9,238.1 440,238.6 C446.1,239.1 454,238.7 461.5,238.5 C469,238.3 479.3,238.5 485.1,237.7 C490.9,236.9 493,236 496.1,233.8 C499.2,231.6 501.1,227.7 504,224.3 C506.9,220.9 510,216.6 513.4,213.3 C516.8,210 522.2,207.6 524.4,204.7 C526.6,201.8 526.4,197.4 526.8,196 L526.8,196 L518.5,318 L518.5,318 C518.3,318.7 518.2,319.9 517.4,322 C516.5,324.1 515.4,328.2 513.4,330.6 C511.4,333 509.3,334.7 505.6,336.1 C501.9,337.6 497.4,339.6 491.4,339.3 C485.4,339 477,336.1 469.4,334.5 C461.8,332.9 452.3,331 445.7,329.8 C439.1,328.6 435.3,328 430,327.5 C424.7,327 418.9,325.3 413.9,326.7 C408.8,328.1 404.2,332.4 399.7,336.1 C395.2,339.8 391.2,345.8 387.1,348.7 C383,351.6 378.7,353.2 375.3,353.4 C371.9,353.6 369.8,352.1 366.7,350.1 C363.6,348.1 360.1,344.7 357,341.5 C353.9,338.3 351.3,334.4 348.4,330.8 C345.5,327.2 342.9,323.3 339.8,320 C336.7,316.7 333.4,313.7 330,311 C326.6,308.3 323.8,306.5 319.4,304 C315,301.5 310.2,298.2 303.6,296 C297,293.8 289.1,291.6 280,290.8 C270.9,290 262,291.1 249,291 C236,290.9 213.7,289.3 202,290 C190.3,290.7 185.9,292.8 179,295 C172.1,297.2 163.6,301.7 160.5,303 " fill="none" stroke="#1c1a7c" stroke-width="2.6" stroke-linejoin="round" stroke-linecap="round"/>
<path d="M160.5,302 C160.8,300 161.3,293.2 162,290 C162.7,286.8 163,284.9 164.5,283 C166,281.1 165.9,279.5 171,278.5 C176.1,277.5 187.2,276.8 195,277 C202.8,277.2 210.2,278.8 218,279.5 C225.8,280.2 234.2,280.9 242,281 C249.8,281.1 258.2,280.6 265,280 C271.8,279.4 278.5,278.2 283,277.5 C287.5,276.8 289.2,276.2 292,275.5 C294.8,274.8 297.3,275 300,273.2 C302.7,271.4 305.5,268.3 308.3,264.5 C311.1,260.7 314.5,254.1 316.6,250.4 C318.7,246.7 319.3,245.8 320.7,242.1 C322.1,238.4 323.4,232.6 324.8,228 C326.2,223.4 327.8,218.5 329,214.8 C330.2,211.1 331.2,207.8 332.3,205.7 C333.4,203.6 334.4,202.6 335.6,202.4 C336.9,202.2 338.4,204.2 339.8,204.8 C341.2,205.4 342.4,206.2 343.9,206.1 C345.4,206 347.2,205.4 348.9,204 C350.5,202.6 352.3,199.8 353.8,197.4 C355.3,195.1 356.1,193.3 358,189.9 C359.9,186.5 362.2,182.2 365,177.2 C367.8,172.2 371.4,166.1 374.5,159.8 C377.6,153.5 381,145.4 383.9,139.4 C386.8,133.4 388.9,127.7 391.8,123.6 C394.7,119.5 398.4,115.9 401.3,115 C404.2,114.1 406.8,115.9 409.1,118.1 C411.5,120.3 413.3,123.5 415.4,128.3 C417.5,133.2 419.3,140.6 421.7,147.2 C424.1,153.8 426.9,162.4 429.6,167.7 C432.3,172.9 435.2,176.5 437.9,178.7 C440.6,180.9 440.4,180.7 445.7,181.1 C450.9,181.5 461.5,181.2 469.4,181.1 C477.3,181 487.8,181.5 493,180.3 C498.2,179.1 498.2,177.2 500.8,174 C503.4,170.8 506.1,166.1 508.7,161.4 C511.3,156.7 514,150.3 516.6,145.6 C519.2,140.9 522.6,135.8 524.4,133 C526.2,130.2 526.8,129.8 527.3,129.1 L527.3,129.1 C527.2,132.6 527.1,139.8 527,150 C526.9,160.2 526.7,175.8 526.5,190 C526.3,204.2 526,222.3 525.6,235 C525.2,247.7 524.9,257 524.2,266 C523.5,275 522.2,281.7 521.3,288.9 C520.4,296.1 519.7,302 518.9,309.4 C518.1,316.8 517.5,324.9 516.6,333 C515.7,341.1 514.7,350.8 513.4,358.1 C512.1,365.4 510.5,371.5 508.7,377 C506.9,382.5 505,387.3 502.4,391.2 C499.8,395.1 496.4,398.6 493,400.6 C489.6,402.6 487.2,403.4 482,403 C476.8,402.6 467.6,400.1 461.5,398.3 C455.4,396.5 450.9,394 445.7,392 C440.4,390 434,387.6 430,386.5 C426,385.4 424.6,385.9 421.7,385.7 C418.8,385.4 415.7,383.6 412.3,385 C408.9,386.4 404.7,389.9 401.3,394.4 C397.9,398.8 394.5,406.8 391.8,411.7 C389.1,416.6 387,420.4 385,424 C383,427.6 381.6,430.4 380,433 C378.4,435.6 377.2,437.5 375.3,439.5 C373.4,441.5 370.7,444.2 368.9,444.9 C367.1,445.6 366.6,445.6 364.6,443.8 C362.6,442 359.3,438.2 357,434.1 C354.7,430 352.6,424.4 350.6,419 C348.6,413.6 347,407.9 345.2,401.8 C343.4,395.7 341.6,388.8 339.8,382.4 C338,375.9 336.2,369 334.4,363.1 C332.6,357.2 330.9,351.8 329.1,346.9 C327.3,342 325.3,337.4 323.7,334 C322.1,330.6 321.2,328.8 319.4,326.2 C317.6,323.7 315.2,321 313.1,318.8 C311,316.5 309.5,314.7 306.9,312.5 C304.3,310.3 300.6,307.6 297.5,305.6 C294.4,303.6 291.2,302.1 288.1,300.6 C285,299.2 283.4,298 278.8,296.9 C274.1,295.8 264.9,294.5 260,293.8 C255.1,293 259,292.9 249.4,292.3 C239.8,291.7 214.2,289.6 202.5,290.2 C190.8,290.8 186,293.6 179,295.6 C172,297.6 163.6,300.9 160.5,302 " fill="none" stroke="#0c0c0c" stroke-width="3" stroke-linejoin="round" stroke-linecap="round"/>
<path d="M164.5,218 C164.7,210 165.2,186.4 165.5,170 C165.8,153.6 166.2,127.9 166.4,119.5 L166.4,119.5 C166.6,117.3 167.2,111.3 167.8,106.3 C168.4,101.3 169,94.6 169.8,89.7 C170.6,84.8 171.3,81 172.4,77.1 C173.5,73.2 175.1,69.3 176.4,66.5 C177.7,63.7 179.3,61.6 180.4,60.5 C181.5,59.4 181.7,59.3 183,59.9 C184.3,60.5 186.5,61.7 188.3,63.9 C190.1,66.1 191.7,69.3 193.6,73.1 C195.5,76.8 197.8,82.8 200,86.4 C202.2,90.1 204.5,91.7 206.7,95 C208.9,98.3 210.4,100.6 213,106.1 C215.6,111.6 219.2,120.8 222.4,128.2 C225.6,135.5 228.8,144.2 231.9,150.2 C235.1,156.2 238.2,161.4 241.3,164.4 C244.5,167.4 247.7,167.7 250.8,168.2 C254,168.7 257.3,167.7 260.2,167.2 C263.1,166.7 265.4,165.9 268,165.3 C270.6,164.7 274.2,163.9 275.5,163.6 " fill="none" stroke="#b4b0f4" stroke-width="1.8" stroke-linejoin="round" stroke-linecap="round"/>
<path d="M164.5,220 C164.8,210 165.8,176.9 166.5,160 C167.2,143.1 168.5,125.6 168.9,118.7 L172.4,107 C173.1,105.9 175.1,102.2 176.4,100.5 C177.7,98.8 178.8,98 180.4,97 C182.1,96 184.2,95 186.3,94.3 C188.4,93.6 191.2,93.1 193,93 C194.8,92.9 194.9,91.8 197.2,93.5 C199.5,95.2 203.3,98.3 206.7,103 C210.1,107.7 214,115.3 217.7,121.9 C221.4,128.5 225,135.8 228.7,142.4 C232.4,149 236.7,157.1 239.8,161.3 C243,165.5 244.2,167.1 247.6,167.6 C251,168.1 256.5,167.6 260.2,164.4 C263.9,161.2 267.1,156 269.7,148.7 C272.3,141.3 274.9,125 276,120.3 " fill="none" stroke="#7c78ec" stroke-width="2" stroke-linejoin="round" stroke-linecap="round"/>
<path d="M164.5,220 C164.9,210.8 166,180.3 167,165 C168,149.7 169.9,134.3 170.5,128.2 L176.4,116 C177.2,115.2 179.3,112.1 181.5,110.9 C183.7,109.7 187.8,109.3 189.6,108.9 C191.4,108.5 190.4,107.9 192.5,108.5 C194.6,109.1 198.6,109.7 202,112.4 C205.4,115.2 209.1,120 213,125 C216.9,130 221.7,136.1 225.6,142.4 C229.5,148.7 233.2,158.1 236.6,162.8 C240,167.5 242.4,169.8 246.1,170.7 C249.8,171.6 255,170.7 258.7,168.3 C262.4,165.9 265.2,161.6 268.1,156.5 C271,151.4 274.7,140.8 276,137.6 " fill="none" stroke="#4040dc" stroke-width="2" stroke-linejoin="round" stroke-linecap="round"/>
<path d="M164,221 C164.5,212.5 165.9,183.9 167,170 C168.1,156.1 169.9,143 170.5,137.6 L179.9,123.5 C182,123 188.8,120.3 192.5,120.3 C196.2,120.3 198.6,121.4 202,123.5 C205.4,125.6 209.3,129 213,132.9 C216.7,136.8 220.3,141.6 224,147.1 C227.7,152.6 231.6,161.3 235,166 C238.4,170.7 240.8,174 244.5,175.4 C248.2,176.8 253.2,176.4 257.1,174.6 C261,172.8 265,168.5 268.1,164.4 C271.2,160.3 274.7,152.6 276,150.2 " fill="none" stroke="#2a26b4" stroke-width="2" stroke-linejoin="round" stroke-linecap="round"/>
<path d="M163.8,222 C164.1,218.3 164.9,206.7 165.5,200 C166.1,193.3 167,184.8 167.3,181.7 L172,147.1 C173.3,145 176.8,137.2 179.9,134.5 C183.1,131.8 187.5,131.1 190.9,130.6 C194.3,130.1 197.2,129.9 200.4,131.3 C203.6,132.7 206.7,136.3 209.8,139.2 C213,142.1 216.2,145 219.3,148.7 C222.5,152.4 225.5,156.9 228.7,161.3 C231.8,165.8 235.3,171.5 238.2,175.4 C241.1,179.3 242.9,183.6 246.1,184.9 C249.2,186.2 253.7,185.1 257.1,183.3 C260.5,181.5 263.4,178.9 266.5,173.9 C269.6,168.9 274.4,156.8 276,153.4 " fill="none" stroke="#1c1a7c" stroke-width="2" stroke-linejoin="round" stroke-linecap="round"/>
<path d="M163.4,224.3 C163.8,219.8 164.8,205.9 165.7,197.5 C166.6,189.1 167.6,180.7 168.9,173.9 C170.2,167.1 171.5,161 173.6,156.5 C175.7,152 178.3,149.1 181.5,147.1 C184.7,145.1 189.3,145 192.5,144.7 C195.7,144.4 197.5,144.1 200.4,145.5 C203.3,146.9 206.7,150.8 209.8,153.4 C213,156 216.7,158.4 219.3,161.3 C221.9,164.2 223.5,166.8 225.6,170.7 C227.7,174.6 229.5,180.7 231.9,184.9 C234.3,189.1 237.2,193.4 239.8,195.9 C242.4,198.4 244.7,199.5 247.6,199.8 C250.5,200.1 254,199.2 257.1,197.5 C260.2,195.8 263.4,194.1 266.5,189.6 C269.6,185.1 274.4,173.8 276,170.7 " fill="none" stroke="#0c0c0c" stroke-width="2.2" stroke-linejoin="round" stroke-linecap="round"/>
<line x1="179.9" y1="53.5" x2="188.6" y2="168" stroke="#333" stroke-width="1.8"/>
<path d="M185.6,165.5 L192.2,165 L189.4,179 Z" fill="#222"/>
<line x1="162.5" y1="73.8" x2="171.4" y2="81.7" stroke="#222" stroke-width="1.6"/>
<line x1="165.1" y1="103.3" x2="183" y2="96" stroke="#222" stroke-width="1.6"/>
<line x1="205.9" y1="115.6" x2="228.7" y2="117.4" stroke="#222" stroke-width="1.6"/>
<line x1="300.3" y1="247.5" x2="321.2" y2="271.2" stroke="#222" stroke-width="1.6"/>
<line x1="463" y1="170.8" x2="470.1" y2="181.1" stroke="#222" stroke-width="1.6"/>
<line x1="460.7" y1="229" x2="467" y2="238.5" stroke="#222" stroke-width="1.6"/>
<line x1="383.1" y1="278.7" x2="399.6" y2="145" stroke="#222" stroke-width="1.8"/>
<path d="M396.3,146 L403.6,146.8 L400.6,133.6 Z" fill="#111"/>
<rect x="148.6" y="265.9" width="130" height="50.1" fill="none" stroke="#555" stroke-width="1.7" stroke-dasharray="5.5,5"/>
<text x="199.2" y="62.8" font-size="21.5" fill="#111">H<tspan font-size="14.5" dy="8.5" dx="0.5">UPD</tspan></text>
<text x="148" y="69" font-size="20.5" fill="#aaa2f0">1<tspan font-size="13.5" dy="-11.5" dx="2">st</tspan></text>
<text x="136.5" y="107.6" font-size="20.5" fill="#8882ee">10<tspan font-size="13.5" dy="-10.5" dx="0.5">th</tspan></text>
<text x="228.5" y="125.5" font-size="22" fill="#2b2bd6">50<tspan font-size="13.5" dy="-10" dx="0.5">th</tspan></text>
<text x="267" y="246.2" font-size="22.5" fill="#3222c4">100<tspan font-size="13" dy="-12">th</tspan></text>
<text x="447.6" y="167.7" font-size="23.5" fill="#111">500<tspan font-size="14.5" dy="-10" dx="0.5">th</tspan></text>
<text x="443" y="227.5" font-size="23.5" fill="#201c88">200<tspan font-size="14.5" dy="-10" dx="0.5">th</tspan></text>
<text x="326.2" y="190" font-size="22" fill="#111">A<tspan font-size="15.5" dy="5.5">1</tspan></text>
<text x="394.2" y="97.5" font-size="22" fill="#111">A<tspan font-size="15.5" dy="5.5">2</tspan></text>
<text x="501" y="116.5" font-size="22" fill="#111">A<tspan font-size="15.5" dy="8.5">3</tspan></text>
<text x="359.8" y="478" font-size="22" fill="#111">C<tspan font-size="15.5" dy="8">2</tspan></text>
<text x="485.7" y="439.2" font-size="22" fill="#111">C<tspan font-size="15.5" dy="8">3</tspan></text>
<path d="M755.8,124.2 L869.2,248.8 L933.2,282.3 L998,420 L1063.2,431.6 L1127.5,381.5" fill="none" stroke="#111" stroke-width="3" stroke-dasharray="11.7,15.3" stroke-dashoffset="22.9"/>
<rect x="748.6" y="117.0" width="14.4" height="14.4" rx="1.5" fill="#bcbcbc" stroke="#444" stroke-width="2.4"/>
<rect x="862.0" y="241.6" width="14.4" height="14.4" rx="1.5" fill="#bcbcbc" stroke="#444" stroke-width="2.4"/>
<rect x="926.0" y="275.1" width="14.4" height="14.4" rx="1.5" fill="#bcbcbc" stroke="#444" stroke-width="2.4"/>
<rect x="990.8" y="412.8" width="14.4" height="14.4" rx="1.5" fill="#bcbcbc" stroke="#444" stroke-width="2.4"/>
<rect x="1056.0" y="424.4" width="14.4" height="14.4" rx="1.5" fill="#bcbcbc" stroke="#444" stroke-width="2.4"/>
<rect x="1120.3" y="374.3" width="14.4" height="14.4" rx="1.5" fill="#bcbcbc" stroke="#444" stroke-width="2.4"/>
<path d="M755.3,89.4 L804.3,166.3 L868.3,257.5 L933.5,355.5 L998.4,393 L1063.2,470.8 L1127.8,464" fill="none" stroke="#1616e0" stroke-width="3" stroke-dasharray="11.7,15.3" stroke-dashoffset="2"/>
<circle cx="755.3" cy="89.4" r="8.3" fill="#b8aef6" stroke="#3a34e4" stroke-width="2.4"/>
<circle cx="804.3" cy="166.3" r="8.3" fill="#b8aef6" stroke="#3a34e4" stroke-width="2.4"/>
<circle cx="868.3" cy="257.5" r="8.3" fill="#b8aef6" stroke="#3a34e4" stroke-width="2.4"/>
<circle cx="933.5" cy="355.5" r="8.3" fill="#b8aef6" stroke="#3a34e4" stroke-width="2.4"/>
<circle cx="998.4" cy="393" r="8.3" fill="#b8aef6" stroke="#3a34e4" stroke-width="2.4"/>
<circle cx="1063.2" cy="470.8" r="8.3" fill="#b8aef6" stroke="#3a34e4" stroke-width="2.4"/>
<circle cx="1127.8" cy="464" r="8.3" fill="#b8aef6" stroke="#3a34e4" stroke-width="2.4"/>
<line x1="747" y1="139.8" x2="776.1" y2="139.8" stroke="#111" stroke-width="2"/>
<path d="M733.9,139.8 L747.5,136.3 L745.5,139.8 L747.5,143.3 Z" fill="#111"/>
<line x1="1111" y1="479.3" x2="1138" y2="479.3" stroke="#2a2ae0" stroke-width="2"/>
<path d="M1150.5,479.3 L1137,475.8 L1139,479.3 L1137,482.8 Z" fill="#2a2ae0"/>
<path d="M156.6,966.3 C156.7,961.9 156.6,947.5 157.2,939.8 C157.8,932.1 158.6,925.5 159.9,919.9 C161.2,914.3 161.7,910.1 165,906 C168.3,901.9 174.1,898.1 180,895 C185.9,891.9 191.7,890.1 200.2,887.6 C208.7,885.1 216.9,883.6 231.2,880.3 C245.5,876.9 267.8,871.1 285.9,867.5 C304,863.9 323.5,861.4 340,858.4 C356.5,855.4 371.4,852 384.7,849.5 C398,847 409.1,845.3 420,843.5 C430.9,841.7 443.2,840.1 450,838.5 C456.8,836.9 458.3,837.4 461,834 C463.7,830.6 464.7,825.3 466,818 C467.3,810.7 467.9,803 469,790 C470.1,777 471.3,753 472.5,740 C473.7,727 475,718.2 476,712 C477,705.8 477.9,704.5 478.3,703 L478.3,703 L479.5,725 L479.5,725 C479.4,735.8 479.4,770.8 479,790 C478.6,809.2 477.8,825 477,840 C476.2,855 475.5,869.2 474,880 C472.5,890.8 470.7,898.2 468,905 C465.3,911.8 462.7,916 458,921 C453.3,926 446.2,931.5 440,935 C433.8,938.5 430.2,939.8 421,942 C411.8,944.2 398.2,946.2 384.7,948 C371.2,949.8 356.5,953 340,953 C323.5,953 299.3,949.2 285.9,947.7 C272.4,946.2 270.4,944.7 259.3,943.8 C248.2,942.9 230.7,942.1 219.6,942.4 C208.5,942.7 201.8,944.4 193,945.7 C184.2,947 172,948.7 166.5,950.4 C161,952.1 161.1,955.1 160,956 " fill="none" stroke="#b6aef4" stroke-width="2.6" stroke-linejoin="round" stroke-linecap="round"/>
<path d="M157.2,988.8 C157.4,982.8 157.9,963.4 158.6,953 C159.3,942.6 159.9,934.2 161.2,926.5 C162.5,918.8 163.9,912.2 166.5,906.6 C169.1,901 171.8,897.1 176.5,893 C181.2,888.9 185.6,885.7 194.7,882.1 C203.8,878.5 219,874.6 231.2,871.2 C243.3,867.9 255.5,865 267.6,862 C279.8,859 292,855.1 304.1,852.9 C316.2,850.7 329.6,850.2 340,849 C350.4,847.8 355.9,847.1 366.4,845.6 C376.9,844.1 392.3,841.4 402.9,840.1 C413.5,838.8 422.4,838.5 430.2,837.8 C438,837.1 445.5,836.6 449.9,835.8 C454.3,835 454.7,834.6 456.5,833.1 C458.3,831.6 459.4,829.8 460.5,826.5 C461.6,823.2 462.2,817.7 463.1,813.3 C464,808.9 464.8,806.4 465.8,800 C466.8,793.6 467.8,784.7 469,775 C470.2,765.3 471.8,753.7 473,742 C474.2,730.3 475.6,717 476.5,705 C477.4,693 478,683 478.6,670 C479.2,657 479.7,634.4 479.9,627.3 L479.9,627.3 L480.8,645 L480.8,645 C480.7,654.2 480.6,683.3 480.2,700 C479.8,716.7 478.9,730 478.2,745 C477.5,760 476.7,777.5 476,790 C475.3,802.5 474.8,809.5 474,820 C473.2,830.5 472,843.1 471.1,853 C470.2,862.9 469.7,870.7 468.4,879.5 C467.1,888.3 465.5,898.3 463.1,906 C460.7,913.7 457.2,921 453.9,925.9 C450.6,930.8 447.3,932.8 443.3,935.2 C439.3,937.6 433.7,938.4 430,940.5 C426.3,942.6 428.7,944.9 421.1,947.6 C413.6,950.4 396.9,955.4 384.7,957 C372.5,958.6 357.3,957.8 348.2,957.5 C339.1,957.2 340.4,956.2 330,955.5 C319.6,954.8 299.3,953.5 285.9,953.2 C272.5,952.9 260.4,952.8 249.4,953.6 C238.4,954.5 229,956.2 219.6,958.3 C210.2,960.4 200.8,963.4 193,966.3 C185.2,969.2 178.4,973 173.1,975.6 C167.8,978.2 163.2,981.1 161.2,982.2 " fill="none" stroke="#5c50e8" stroke-width="2.6" stroke-linejoin="round" stroke-linecap="round"/>
<path d="M157.3,914 C157.8,912.2 153.8,906.3 160,903 C166.2,899.7 179.8,896 194.7,894 C209.6,892 231.2,892 249.4,891 C267.6,890 281.4,889.2 304,888 C326.6,886.8 365.2,885.2 384.7,884 C404.2,882.8 408.1,881.6 421.1,881 C434.2,880.4 453.3,880.5 463,880.5 C472.7,880.5 476.7,880.9 479.4,881 L479.4,881 L479.4,920.3 L479.4,920.3 C475.8,920.8 473.3,922.5 457.5,923.5 C441.7,924.5 410.3,926.3 384.7,926 C359.1,925.7 326.6,922.8 304,921.5 C281.4,920.2 267.6,919.3 249.4,918.5 C231.2,917.7 210,916.8 194.7,916.5 C179.3,916.2 163.5,916.5 157.3,916.5 " fill="none" stroke="#a01818" stroke-width="3" stroke-linejoin="round" stroke-linecap="round"/>
<path d="M157.3,918 C157.3,916.3 156.4,910.5 157.5,907.6 C158.6,904.7 157.5,902.4 163.7,900.5 C169.9,898.6 180.4,897.8 194.7,896.5 C209,895.2 231.2,894.2 249.4,893 C267.6,891.8 289,890.3 304.1,889.5 C319.2,888.7 326.6,888.7 340,888 C353.4,887.3 371.2,886.4 384.7,885.5 C398.2,884.6 408.4,883.2 421.1,882.5 C433.9,881.8 452.7,883.2 461.2,881.5 C469.7,879.8 469.1,876.8 472.1,872 C475.1,867.2 478.2,856.1 479.4,852.9 L479.4,852.9 L479.8,870 L479.8,870 C479.1,873.8 477.7,886.1 475.8,893 C473.9,899.9 471.6,906.4 468.5,911.2 C465.4,916.1 462.4,919.5 457.5,922.1 C452.6,924.7 451.4,925.6 439.3,926.7 C427.2,927.9 401.2,928.9 384.7,929 C368.1,929.1 353.4,928.1 340,927.5 C326.6,926.9 319.2,926.3 304.1,925.5 C289,924.7 267.6,923.3 249.4,922.5 C231.2,921.7 210,920.8 194.7,920.5 C179.3,920.2 163.5,920.5 157.3,920.5 " fill="none" stroke="#e41c1c" stroke-width="3.2" stroke-linejoin="round" stroke-linecap="round"/>
<path d="M157.6,909 C158.2,908 158.9,904.7 161,903 C163.1,901.3 164.4,900.3 170,899 C175.6,897.7 187.5,896.2 194.7,895 C201.8,893.8 206.8,892.4 212.9,891.5 C219,890.6 216,890.5 231.2,889.6 C246.4,888.7 287.6,886.6 304.1,885.9 C320.6,885.2 319.6,886.1 330,885.5 C340.4,884.9 354.2,884.1 366.4,882 C378.5,879.9 392.3,876.2 402.9,872.9 C413.5,869.6 423.5,864.9 430.2,862 C436.9,859.1 438.9,858 443.3,855.7 C447.7,853.4 452.8,850.2 456.5,848.4 C460.2,846.6 462.7,845.3 465.8,845 C468.9,844.7 472.7,846 475,846.5 C477.3,847 478.9,847.5 479.7,847.7 L479.7,847.7 L479.7,944.4 L479.7,944.4 C478.9,944.2 476.6,942.9 475,943.1 C473.4,943.3 471.8,945.1 469.8,945.8 C467.8,946.5 465.3,946.7 463.1,947.1 C460.9,947.5 458.7,948.9 456.5,948.4 C454.3,947.9 452.5,946.2 449.9,944.4 C447.2,942.6 443.9,939.6 440.6,937.8 C437.3,936 436.3,935.1 430,933.8 C423.7,932.5 419.6,930.8 402.9,929.8 C386.2,928.8 346.5,928 330,928 C313.5,928 315.9,929.2 304.1,929.5 C292.3,929.8 273.4,929.5 259.3,930 C245.2,930.5 232.8,931.6 219.6,932.5 C206.3,933.4 190.2,934.6 179.8,935.1 C169.4,935.6 161,935.7 157.2,935.8 " fill="none" stroke="#111" stroke-width="2.8" stroke-linejoin="round" stroke-linecap="round"/>
<path d="M157.2,1035.9 C157.4,1030.9 158.1,1015.5 158.6,1006.1 C159.1,996.7 159.2,987.3 159.9,979.6 C160.6,971.9 161.4,967.5 162.5,959.7 C163.6,952 164.9,940.8 166.5,933.1 C168.1,925.4 169.5,919.1 171.8,913.3 C174.1,907.5 176.3,903.4 180.1,898.5 C183.9,893.6 189.2,887.9 194.7,883.9 C200.2,879.9 203.8,880 212.9,874.8 C222,869.6 237.2,860.2 249.4,852.9 C261.6,845.6 273.8,837.6 285.9,831 C298,824.4 313.3,816.9 322.3,813 C331.3,809.1 332.6,809.6 340,807.5 C347.4,805.4 359.7,802.2 366.4,800.5 C373.1,798.8 373.8,798.8 380,797.5 C386.2,796.2 395.7,794.9 403.6,792.5 C411.5,790.1 420.6,786.8 427.2,783.1 C433.8,779.4 438.2,775 442.9,770.5 C447.6,766 451.8,761 455.5,756.3 C459.2,751.6 462.1,747.2 465,742.2 C467.9,737.2 470.7,731.6 472.8,726.4 C474.9,721.1 476.6,715.2 477.6,710.7 C478.7,706.2 478.9,701.5 479.1,699.7 L479.1,699.7 L480.3,722 L480.3,722 C480.3,733.3 480.5,772 480.4,790 C480.3,808 480.1,818.3 479.8,830 C479.5,841.7 479.1,851.8 478.6,860 C478.1,868.2 477.8,869.6 477,879.5 C476.2,889.4 475.3,908.2 473.7,919.3 C472.1,930.3 469.2,940.3 467.1,945.8 C465,951.3 463.4,950.3 461.2,952.5 C459,954.7 456,957.5 453.9,959 C451.8,960.5 452.3,960.4 448.4,961.5 C444.4,962.6 437.8,964.6 430.2,965.9 C422.6,967.2 413.5,968 402.9,969.5 C392.3,971 378.5,973.3 366.4,975 C354.2,976.7 341.9,978.8 330,979.5 C318.1,980.2 306.7,979.2 295,979.2 C283.3,979.2 268.1,979.3 260,979.6 C251.8,979.9 250.6,980.2 246.1,980.9 C241.6,981.5 237.2,982.2 232.8,983.5 C228.4,984.8 224,986.6 219.6,988.8 C215.2,991 210.7,993.7 206.3,996.8 C201.9,999.9 197.4,1003.4 193,1007.4 C188.6,1011.4 184.2,1015.8 179.8,1020.7 C175.4,1025.6 170.2,1031.8 166.5,1036.6 C162.8,1041.3 159.3,1047.1 157.9,1049.2 " fill="none" stroke="#1c186e" stroke-width="3" stroke-linejoin="round" stroke-linecap="round"/>
<text x="560.8" y="705.3" font-size="26" text-anchor="end" fill="#1a1a6e">25 °C</text>
<text x="563.5" y="763" font-size="26" text-anchor="end" fill="#6a62e4">200 °C</text>
<text x="562" y="796" font-size="26" text-anchor="end" fill="#aca6ea">300 °C</text>
<text x="565" y="856" font-size="26" text-anchor="end" fill="#e41c1c">400 °C</text>
<text x="563.5" y="891" font-size="26" text-anchor="end" fill="#a01c1c">500 °C</text>
<text x="563.5" y="931" font-size="26" text-anchor="end" fill="#111">600 °C</text>
<path d="M741,882 C744.2,880.4 751.9,876 760,872.1 C768.1,868.2 781.4,861.6 789.7,858.8 C798,855.9 800,857.3 810,855 C820,852.7 832.9,850.2 849.4,844.9 C865.9,839.6 892.2,830 909,823 C925.8,816 938.2,808.4 950,803.1 C961.8,797.8 969.9,795.2 979.8,791.2 C989.7,787.2 1001.3,781.9 1009.6,779.2 C1017.9,776.6 1023.5,776.6 1029.5,775.3 C1035.5,774 1041.1,773.3 1045.4,771.3 C1049.7,769.3 1052.8,767.3 1055.4,763.3 C1058.1,759.3 1060.3,750 1061.3,747.4 L1061.3,747.4 L1061,780 L1061,780 C1060.4,788.3 1059,818.3 1057.4,830 C1055.8,841.7 1053.7,843.4 1051.4,850 C1049.1,856.6 1047.1,863.2 1043.4,869.8 C1039.8,876.4 1035.1,884.1 1029.5,889.7 C1023.9,895.4 1017.9,900.4 1009.6,903.7 C1001.3,907 989.7,908.4 979.8,909.6 C969.9,910.9 961.8,911.2 950,911.2 C938.2,911.2 922.5,910.9 909,909.6 C895.5,908.4 885.8,906.4 869.2,903.7 C852.6,901.1 830.8,896 809.6,893.7 C788.4,891.4 753.2,890.4 741.9,889.7 " fill="none" stroke="#b6aef4" stroke-width="2.6" stroke-linejoin="round" stroke-linecap="round"/>
<path d="M741,880 C745.8,877.7 758.3,870.4 769.8,866 C781.3,861.6 796.7,859.7 810,853.9 C823.3,848.1 836.2,840.5 849.4,831 C862.6,821.5 877.5,806.8 889.1,797.2 C900.7,787.6 908.9,779.9 919,773.3 C929.1,766.7 943.2,760.7 950,757.4 C956.8,754.1 954.9,754.6 959.9,753.4 C964.9,752.2 973.2,750.7 979.8,750.4 C986.4,750.1 991.4,751.1 999.7,751.4 C1008,751.7 1021.2,753.7 1029.5,752.4 C1037.8,751.1 1044,748.2 1049.4,743.4 C1054.8,738.6 1059.7,726.8 1061.7,723.5 L1061.7,723.5 L1061.5,800 L1061.5,800 C1061.2,808.3 1060.4,836.7 1059.4,850 C1058.4,863.3 1057.1,869.9 1055.4,879.8 C1053.7,889.7 1052.1,901.3 1049.4,909.6 C1046.8,917.9 1042.8,924.7 1039.5,929.5 C1036.2,934.3 1032.8,936.8 1029.5,938.5 C1026.2,940.2 1027.9,940.3 1019.6,939.5 C1011.3,938.7 991.4,934.8 979.8,933.5 C968.2,932.2 961.8,931.8 950,931.5 C938.2,931.2 922.5,932.8 909,931.5 C895.5,930.2 882.5,927.1 869.2,923.5 C856,919.9 842.8,913.6 829.5,909.6 C816.2,905.6 804.3,902.4 789.7,899.7 C775.1,897.1 749.9,894.7 741.9,893.7 " fill="none" stroke="#5c50e8" stroke-width="2.6" stroke-linejoin="round" stroke-linecap="round"/>
<path d="M739.5,888 C739.5,883.5 738.3,867.4 739.2,861.3 C740.1,855.2 742.4,854 745,851.4 C747.6,848.8 750,847.1 755,845.6 C760,844.1 765.8,843.4 775,842.3 C784.2,841.2 797.6,840.4 810,839 C822.4,837.6 836.2,835.7 849.4,834 C862.6,832.3 872.3,830.6 889.1,829 C905.9,827.4 931.6,825.6 950,824.5 C968.4,823.4 982,822.9 999.7,822.5 C1017.4,822.1 1046.6,822.1 1056,822 L1056,822 L1061,822 L1061,870 L1061,870 C1060.7,871.3 1061.3,875.5 1059.4,877.8 C1057.5,880.1 1054.4,882.1 1049.4,883.8 C1044.4,885.4 1037.8,886.4 1029.5,887.7 C1021.2,889 1013,890.9 999.7,891.7 C986.5,892.5 965.1,892.5 950,892.5 C934.9,892.5 925.8,892.5 909,891.7 C892.2,890.9 869.3,888.7 849.4,887.7 C829.5,886.7 802.9,885.9 789.7,885.8 C776.5,885.7 778,886.5 770,887 C762,887.5 746.7,888.4 742,888.7 " fill="none" stroke="#e41c1c" stroke-width="2.8" stroke-linejoin="round" stroke-linecap="round"/>
<path d="M740,866 C740.7,864.7 740.7,859.6 744,858 C747.3,856.4 749,857.2 760,856.4 C771,855.6 788.5,854 810,853.1 C831.5,852.2 865.8,851.6 889.1,850.9 C912.4,850.2 931.6,849.6 950,848.9 C968.4,848.2 982.1,847.4 999.7,846.9 C1017.3,846.4 1045.4,846.1 1055.4,845.9 C1065.5,845.7 1059.2,845.6 1060,845.5 L1060,845.5 L1060,867 L1060,867 C1058.2,867.6 1059.5,870.2 1049.4,870.8 C1039.4,871.4 1016.3,871 999.7,870.8 C983.1,870.6 975,870.3 950,869.8 C925,869.3 876.1,868.3 849.4,867.8 C822.7,867.3 807.6,866.9 789.7,866.9 C771.8,866.9 750,867.8 742,868 " fill="none" stroke="#a01818" stroke-width="2.8" stroke-linejoin="round" stroke-linecap="round"/>
<path d="M741,866 C741.7,864.8 741.8,860.4 745,859 C748.2,857.6 749.2,858.1 760,857.5 C770.8,856.9 788.5,856.2 810,855.5 C831.5,854.8 865.8,854.2 889.1,853.5 C912.4,852.8 931.6,852.3 950,851.5 C968.4,850.7 986.5,850.3 999.7,848.9 C1013,847.5 1021.9,844.2 1029.5,842.9 C1037.1,841.6 1041.1,841.1 1045.4,840.9 C1049.7,840.7 1053.1,841.6 1055.4,841.9 C1057.7,842.2 1058.7,842.4 1059.4,842.5 L1059.4,842.5 L1059.4,871.8 L1059.4,871.8 C1058.7,872.1 1058.1,873 1055.4,873.8 C1052.7,874.6 1047.7,876.8 1043.4,876.8 C1039.1,876.8 1036.8,875 1029.5,873.8 C1022.2,872.6 1013,870.8 999.7,869.8 C986.5,868.8 975,868.4 950,868 C925,867.6 876.1,867.7 849.4,867.5 C822.7,867.3 807.6,867 789.7,867 C771.8,867 750,867.4 742,867.5 " fill="none" stroke="#111" stroke-width="2.6" stroke-linejoin="round" stroke-linecap="round"/>
<path d="M739.9,889.5 C740.1,885.9 740.5,874.4 741.2,868 C741.9,861.6 742.9,855.5 744.1,851.4 C745.3,847.2 746.5,845.5 748.3,843.1 C750.1,840.8 752.2,838.8 755,837.3 C757.8,835.8 760.8,835.2 765,834 C769.2,832.8 774.2,831.4 780,829.9 C785.8,828.4 793.4,827.4 800,824.9 C806.6,822.4 812.9,818.7 819.5,815.1 C826.1,811.5 832.8,809.7 839.4,803.1 C846,796.5 852.7,785.2 859.3,775.3 C865.9,765.3 872.6,751.7 879.2,743.4 C885.8,735.1 893.1,729 899.1,725.5 C905.1,722 910,722.3 915,722.6 C920,722.9 923.3,723.7 928.9,727.5 C934.5,731.3 943.6,740.9 948.8,745.5 C954,750.1 956.4,752.6 959.9,755.4 C963.4,758.2 965.5,760.6 969.8,762.3 C974.1,763.9 980.8,765.1 985.8,765.3 C990.8,765.5 994.1,764.6 999.7,763.3 C1005.3,762 1013,759.7 1019.6,757.4 C1026.2,755.1 1033.9,752.7 1039.5,749.4 C1045.1,746.1 1049.7,743.8 1053.4,737.5 C1057.1,731.2 1060.3,715.9 1061.7,711.6 L1061.7,711.6 L1062.3,760 L1062,900 L1062,900 C1061.9,903.3 1061.7,911.3 1061.3,919.6 C1060.9,927.9 1060.6,942.7 1059.4,950 C1058.2,957.3 1057.7,960.9 1054.4,963.3 C1051.1,965.7 1045.3,964.6 1039.5,964.3 C1033.7,964 1026.2,962.4 1019.6,961.3 C1013,960.1 1006.3,958.5 999.7,957.4 C993.1,956.2 986.4,953.8 979.8,954.4 C973.2,955 966.6,957.6 960,961 C953.4,964.4 946.4,970 940,974.5 C933.6,979 927,984.9 921.4,988 C915.8,991.1 911,993 906.5,993.2 C902,993.4 899,991.8 894.5,989.4 C890,987 884.6,983.5 879.6,979 C874.6,974.5 869.7,968.6 864.7,962.6 C859.7,956.6 854.8,949.9 849.8,943.2 C844.8,936.5 839.9,928.1 834.9,922.4 C829.9,916.7 825.8,912.3 820,908.9 C814.2,905.5 806.7,903.9 800,902 C793.3,900.1 786.7,899.2 780,897.8 C773.3,896.4 766.7,894.9 760,893.6 C753.3,892.4 743.3,890.8 740,890.3 " fill="none" stroke="#2a22b8" stroke-width="2.8" stroke-linejoin="round" stroke-linecap="round"/>
<path d="M740,871 C741.6,869.6 744.9,865.5 749.9,862.8 C754.9,860.1 763.2,858.4 769.8,854.8 C776.4,851.1 784.7,845.5 789.7,840.9 C794.7,836.3 796.6,831.6 799.6,827 C802.6,822.4 805.3,816.2 807.6,813.1 C809.9,810 811.2,808.6 813.5,808.1 C815.8,807.6 818.5,809.6 821.5,810.1 C824.5,810.6 828.2,811.9 831.5,811.1 C834.8,810.3 837.8,809.1 841.4,805.1 C845,801.1 849.3,794.8 853.3,787.2 C857.3,779.6 861.3,769.7 865.3,759.4 C869.3,749.1 873.2,736.5 877.2,725.5 C881.2,714.5 885.1,703 889.1,693.7 C893.1,684.4 896.6,675.4 901.1,669.8 C905.6,664.2 912,660.5 916,659.9 C920,659.2 921.4,660.6 924.9,665.9 C928.4,671.2 932.9,682.8 936.9,691.7 C940.9,700.7 945,712.6 948.8,719.6 C952.6,726.6 957,730.4 959.9,733.5 C962.8,736.6 963.2,738.5 965.9,738.5 C968.5,738.5 971.8,737.3 975.8,733.5 C979.8,729.7 985.7,720.2 989.7,715.6 C993.7,711 996.7,707.6 999.7,705.6 C1002.7,703.6 1004.3,703 1007.6,703.7 C1010.9,704.4 1015.6,707.3 1019.6,709.6 C1023.6,711.9 1028.2,715.8 1031.5,717.6 C1034.8,719.4 1036.5,721.3 1039.5,720.6 C1042.5,719.9 1046.4,718.4 1049.4,713.6 C1052.4,708.8 1055.4,699.7 1057.4,691.7 C1059.5,683.8 1061,670.2 1061.7,665.9 L1061.7,665.9 L1062.5,700 L1062.3,860 L1062.3,860 C1062.1,869.9 1061.9,903.6 1061.3,919.6 C1060.7,935.6 1060,947.3 1058.4,956 C1056.9,964.7 1055.2,968.1 1052,972 C1048.8,975.9 1044.9,978.3 1039.5,979.2 C1034.1,980.1 1026.2,977.6 1019.6,977.3 C1013,977 1006.3,975.5 999.7,977.5 C993.1,979.5 986.4,983.9 979.8,989.2 C973.2,994.5 966.5,1002.4 959.9,1009.1 C953.3,1015.8 945.4,1022.8 940,1029.5 C934.6,1036.2 931.1,1043.6 927.3,1049.1 C923.4,1054.6 919.9,1059.9 916.9,1062.5 C913.9,1065.1 911.6,1065 909.4,1064.7 C907.2,1064.5 906,1063.8 903.5,1061 C901,1058.2 897.5,1053.3 894.5,1047.6 C891.5,1041.9 888.6,1033.9 885.6,1026.7 C882.6,1019.5 879.6,1011.6 876.6,1004.4 C873.6,997.2 870.9,991.5 867.7,983.5 C864.5,975.5 860.8,965.1 857.3,956.6 C853.8,948.1 850.5,939.5 846.8,932.8 C843.1,926.1 839.4,921.4 834.9,916.4 C830.4,911.4 825.9,906.8 820,903 C814.1,899.2 808,897.2 799.6,893.7 C791.2,890.2 779.7,885.1 769.8,881.8 C759.9,878.5 745,875.1 740,873.8 " fill="none" stroke="#1c186e" stroke-width="2.9" stroke-linejoin="round" stroke-linecap="round"/>
<text x="1147.5" y="669.8" font-size="26" text-anchor="end" fill="#1a1a6e">25 °C</text>
<text x="1148" y="702" font-size="26" text-anchor="end" fill="#2a22b8">100 °C</text>
<text x="1148" y="735.8" font-size="26" text-anchor="end" fill="#7a70ea">200 °C</text>
<text x="1148.5" y="768.5" font-size="26" text-anchor="end" fill="#c4bef6">300 °C</text>
<text x="1150" y="827.2" font-size="26" text-anchor="end" fill="#e41c1c">400 °C</text>
<text x="1149.5" y="853.2" font-size="26" text-anchor="end" fill="#a01c1c">500 °C</text>
<text x="1149.5" y="881.2" font-size="26" text-anchor="end" fill="#111">600 °C</text>
</svg>
</body></html>
